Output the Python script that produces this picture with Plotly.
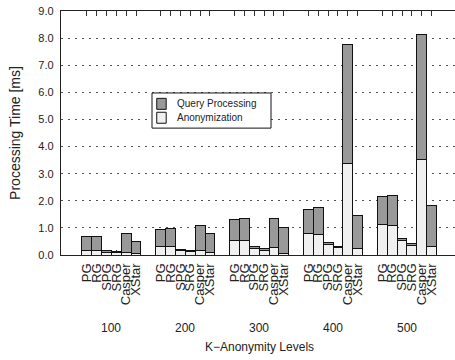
import plotly.graph_objects as go

# K-anonymity levels (groups) and the schemes compared in each group
levels = ["100", "200", "300", "400", "500"]
schemes = ["PG", "RG", "SPG", "SRG", "Casper", "XStar"]

# Anonymization time [ms], one row per level, one entry per scheme
anonymization = [
    [0.16, 0.16, 0.09, 0.09, 0.09, 0.06],
    [0.32, 0.32, 0.15, 0.12, 0.15, 0.10],
    [0.55, 0.53, 0.25, 0.17, 0.29, 0.06],
    [0.81, 0.77, 0.38, 0.27, 3.39, 0.24],
    [1.12, 1.09, 0.53, 0.35, 3.52, 0.32],
]

# Query processing time [ms], stacked on top of anonymization
query_processing = [
    [0.52, 0.54, 0.06, 0.05, 0.69, 0.43],
    [0.63, 0.67, 0.07, 0.06, 0.92, 0.70],
    [0.76, 0.83, 0.07, 0.08, 1.07, 0.95],
    [0.87, 0.99, 0.09, 0.06, 4.38, 1.22],
    [1.02, 1.10, 0.08, 0.07, 4.61, 1.49],
]

y_ticks = [0, 1, 2, 3, 4, 5, 6, 7, 8, 9]

GROUP_STEP = 7.5  # distance between group starts, in bar widths
FONT = "Liberation Sans"
TEXT = "#222222"
ANON_COLOR = "#f0f0f0"
QUERY_COLOR = "#999999"
EDGE = "#111111"

xs, labels, anon_vals, query_vals = [], [], [], []
for g, level in enumerate(levels):
    for i, name in enumerate(schemes):
        xs.append(g * GROUP_STEP + i)
        labels.append(name)
        anon_vals.append(anonymization[g][i])
        query_vals.append(query_processing[g][i])

group_centers = [g * GROUP_STEP + (len(schemes) - 1) / 2 for g in range(len(levels))]

fig = go.Figure()
fig.add_trace(go.Bar(
    x=xs, y=anon_vals, width=1, name="Anonymization",
    marker=dict(color=ANON_COLOR, line=dict(color=EDGE, width=1)),
))
fig.add_trace(go.Bar(
    x=xs, y=query_vals, width=1, name="Query Processing",
    marker=dict(color=QUERY_COLOR, line=dict(color=EDGE, width=1)),
))

annotations = []
for c, level in zip(group_centers, levels):
    annotations.append(dict(
        x=c, y=-0.30, xref="x", yref="paper", text=level, showarrow=False,
        font=dict(family=FONT, size=12, color=TEXT), xanchor="center", yanchor="middle",
    ))
annotations.append(dict(
    x=(group_centers[0] + group_centers[-1]) / 2, y=-0.375, xref="x", yref="paper",
    text="K\u2212Anonymity Levels", showarrow=False,
    font=dict(family=FONT, size=12, color=TEXT), xanchor="center", yanchor="middle",
))

# Boxed key in the upper-left part of the plot
shapes = [
    dict(type="rect", xref="paper", yref="paper", x0=0.231, x1=0.533, y0=0.520, y1=0.664,
         line=dict(color=EDGE, width=1), fillcolor="white", layer="above"),
]
key_items = [("Query Processing", QUERY_COLOR, 0.597, 0.642), ("Anonymization", ANON_COLOR, 0.540, 0.585)]
for text, color, y0, y1 in key_items:
    shapes.append(dict(type="rect", xref="paper", yref="paper", x0=0.243, x1=0.267, y0=y0, y1=y1,
                       line=dict(color=EDGE, width=1), fillcolor=color, layer="above"))
    annotations.append(dict(
        x=0.289, y=(y0 + y1) / 2, xref="paper", yref="paper", text=text, showarrow=False,
        font=dict(family=FONT, size=10, color=TEXT), xanchor="left", yanchor="middle",
    ))

fig.update_layout(
    width=455, height=360,
    margin=dict(l=61, r=0, t=11, b=105, pad=0),
    paper_bgcolor="white", plot_bgcolor="white",
    barmode="stack",
    font=dict(family=FONT, size=11, color=TEXT),
    showlegend=False,
    annotations=annotations,
    shapes=shapes,
    xaxis=dict(
        range=[-2.62, 37.38],
        tickmode="array", tickvals=xs, ticktext=labels, tickangle=-90,
        tickfont=dict(family=FONT, size=13, color=TEXT),
        ticks="inside", ticklen=5, tickcolor="#333", tickwidth=1,
        ticklabelstandoff=2,
        showline=True, linecolor="#222", linewidth=1.3, mirror="ticks",
        showgrid=False, zeroline=False, layer="below traces",
    ),
    yaxis=dict(
        range=[0, 9], tickmode="array", tickvals=y_ticks,
        ticktext=[f"{v:.1f}" for v in y_ticks],
        tickfont=dict(family=FONT, size=11, color=TEXT),
        ticks="", ticklabelstandoff=4,
        showline=True, linecolor="#222", linewidth=1.3,
        showgrid=True, gridcolor="#555", gridwidth=1, griddash="2px,5px",
        zeroline=False,
        title=dict(text="Processing Time [ms]", font=dict(family=FONT, size=14, color=TEXT), standoff=14),
    ),
)

fig.write_html("out.html")
